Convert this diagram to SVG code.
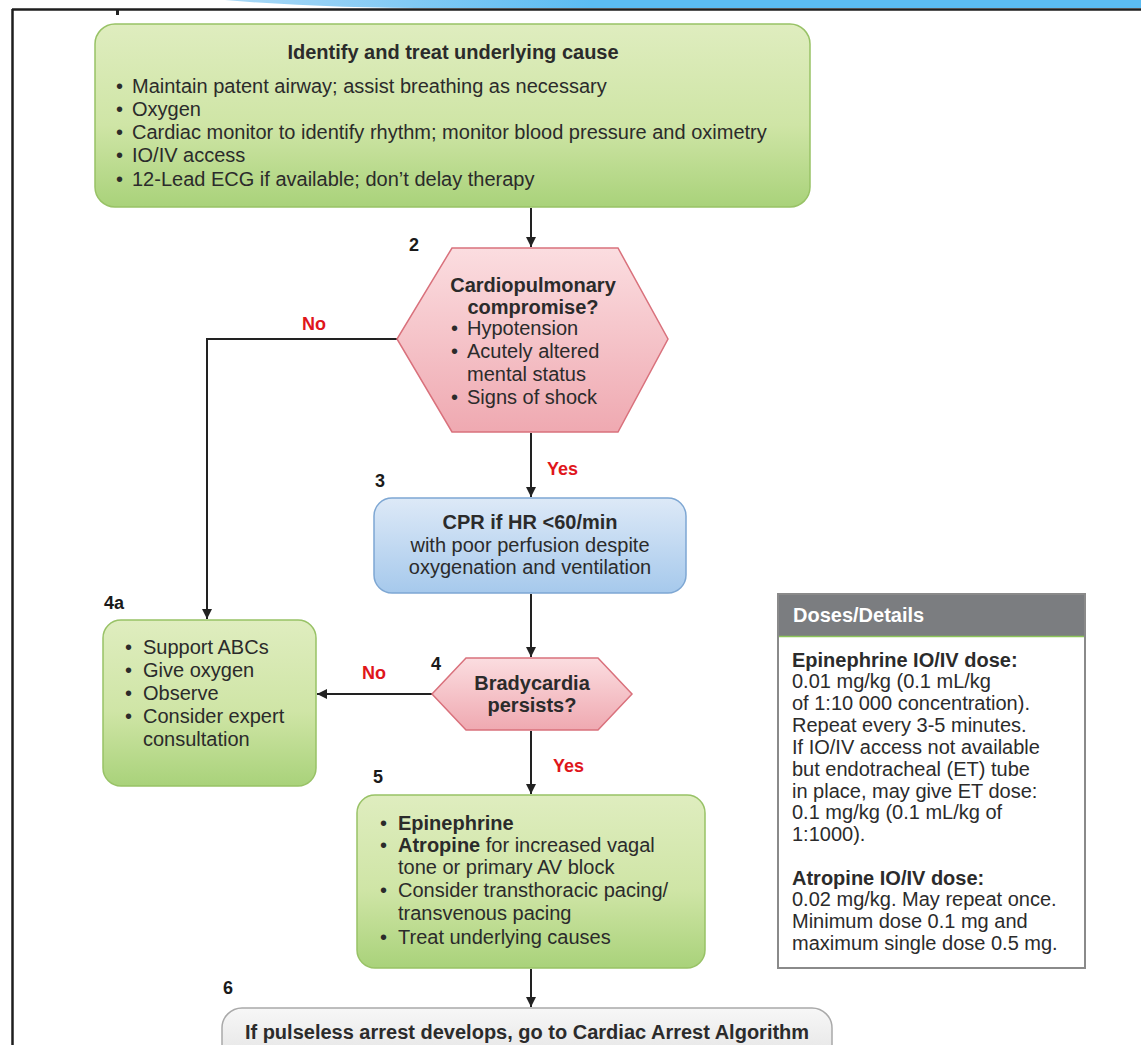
<svg xmlns="http://www.w3.org/2000/svg" width="1141" height="1045" viewBox="0 0 1141 1045">
<defs>
<linearGradient id="gGreen" x1="0" y1="0" x2="0" y2="1"><stop offset="0" stop-color="#dfedbf"/><stop offset="0.55" stop-color="#cfe5a6"/><stop offset="1" stop-color="#a9d27a"/></linearGradient>
<linearGradient id="gPink" x1="0" y1="0" x2="0" y2="1"><stop offset="0" stop-color="#fbdde0"/><stop offset="1" stop-color="#efa9b1"/></linearGradient>
<linearGradient id="gBlue" x1="0" y1="0" x2="0" y2="1"><stop offset="0" stop-color="#dde9f7"/><stop offset="1" stop-color="#a6c9ec"/></linearGradient>
<linearGradient id="gGrey" x1="0" y1="0" x2="0" y2="1"><stop offset="0" stop-color="#f7f7f7"/><stop offset="1" stop-color="#e2e2e2"/></linearGradient>
<linearGradient id="gBanner" x1="0" y1="0" x2="1" y2="0"><stop offset="0" stop-color="#a9d8f6"/><stop offset="0.4" stop-color="#5bbcf2"/><stop offset="1" stop-color="#5bbcf2"/></linearGradient>
<marker id="arr" viewBox="0 0 10 10" refX="10" refY="5" markerWidth="10" markerHeight="10" markerUnits="userSpaceOnUse" orient="auto"><path d="M0,0 L10,5 L0,10 Z" fill="#222"/></marker>
</defs>
<style>
text{font-family:"Liberation Sans",Arial,sans-serif;fill:#2b2b2b;font-size:20px}
.b{font-weight:bold}
.c{text-anchor:middle}
.num{font-weight:bold;font-size:18px;fill:#1a1a1a}
.lab{font-weight:bold;font-size:18px;fill:#e0161b}
.green{fill:url(#gGreen);stroke:#98c266;stroke-width:1.5}
.pink{fill:url(#gPink);stroke:#d9717c;stroke-width:1.5}
.blue{fill:url(#gBlue);stroke:#7ea7d3;stroke-width:1.5}
.grey{fill:url(#gGrey);stroke:#a9a9a9;stroke-width:1.5}
.conn{stroke:#222;stroke-width:2;fill:none;marker-end:url(#arr)}
.hdr{fill:#fff;font-weight:bold}
</style>
<rect x="0" y="0" width="1141" height="1045" fill="#fff"/>
<g id="frame">
<path d="M225 0 Q330 9 470 8 L1141 8 L1141 0 Z" fill="url(#gBanner)"/>
<line x1="12" y1="9.5" x2="1141" y2="9.5" stroke="#1e1e1e" stroke-width="2.5"/>
<line x1="12.5" y1="9" x2="12.5" y2="1045" stroke="#1e1e1e" stroke-width="2.5"/>
<rect x="116" y="10" width="3" height="5" fill="#222"/>
</g>
<g id="connectors">
<line class="conn" x1="531" y1="208" x2="531" y2="247"/>
<polyline class="conn" points="397,339 207,339 207,619"/>
<line class="conn" x1="531" y1="433" x2="531" y2="497"/>
<line class="conn" x1="531" y1="594" x2="531" y2="657"/>
<line class="conn" x1="432" y1="694" x2="317" y2="694"/>
<line class="conn" x1="531" y1="731" x2="531" y2="794"/>
<line class="conn" x1="531" y1="969" x2="531" y2="1007"/>
<text class="lab" x="302" y="330">No</text>
<text class="lab" x="547" y="475">Yes</text>
<text class="lab" x="362" y="679">No</text>
<text class="lab" x="553" y="772">Yes</text>
</g>
<g id="n1">
<rect class="green" x="95" y="24" width="715" height="183" rx="20"/>
<text class="b c" x="453" y="59">Identify and treat underlying cause</text>
<text x="116" y="93">•</text><text x="132" y="93">Maintain patent airway; assist breathing as necessary</text>
<text x="116" y="116">•</text><text x="132" y="116">Oxygen</text>
<text x="116" y="139">•</text><text x="132" y="139">Cardiac monitor to identify rhythm; monitor blood pressure and oximetry</text>
<text x="116" y="162">•</text><text x="132" y="162">IO/IV access</text>
<text x="116" y="186">•</text><text x="132" y="186">12-Lead ECG if available; don’t delay therapy</text>
</g>
<g id="n2">
<text class="num" x="409" y="251">2</text>
<polygon class="pink" points="452,248 618,248 668,339 618,432 452,432 397,339"/>
<text class="b c" x="533" y="292">Cardiopulmonary</text>
<text class="b c" x="533" y="314">compromise?</text>
<text x="451" y="335">•</text><text x="467" y="335">Hypotension</text>
<text x="451" y="358">•</text><text x="467" y="358">Acutely altered</text>
<text x="467" y="381">mental status</text>
<text x="451" y="404">•</text><text x="467" y="404">Signs of shock</text>
</g>
<g id="n3">
<text class="num" x="375" y="487">3</text>
<rect class="blue" x="374" y="498" width="312" height="95" rx="18"/>
<text class="b c" x="530" y="529">CPR if HR &lt;60/min</text>
<text class="c" x="530" y="552">with poor perfusion despite</text>
<text class="c" x="530" y="574">oxygenation and ventilation</text>
</g>
<g id="n4a">
<text class="num" x="104" y="609">4a</text>
<rect class="green" x="103" y="620" width="213" height="166" rx="18"/>
<text x="125" y="654">•</text><text x="143" y="654">Support ABCs</text>
<text x="125" y="677">•</text><text x="143" y="677">Give oxygen</text>
<text x="125" y="700">•</text><text x="143" y="700">Observe</text>
<text x="125" y="723">•</text><text x="143" y="723">Consider expert</text>
<text x="143" y="746">consultation</text>
</g>
<g id="n4">
<text class="num" x="431" y="670">4</text>
<polygon class="pink" points="466,658 598,658 632,694 598,730 466,730 432,694"/>
<text class="b c" x="532" y="690">Bradycardia</text>
<text class="b c" x="532" y="712">persists?</text>
</g>
<g id="n5">
<text class="num" x="373" y="783">5</text>
<rect class="green" x="357" y="795" width="348" height="173" rx="18"/>
<text x="380" y="830">•</text><text class="b" x="398" y="830">Epinephrine</text>
<text x="380" y="852">•</text><text x="398" y="852"><tspan class="b">Atropine</tspan> for increased vagal</text>
<text x="398" y="874">tone or primary AV block</text>
<text x="380" y="897">•</text><text x="398" y="897">Consider transthoracic pacing/</text>
<text x="398" y="920">transvenous pacing</text>
<text x="380" y="944">•</text><text x="398" y="944">Treat underlying causes</text>
</g>
<g id="n6">
<text class="num" x="223" y="994">6</text>
<rect class="grey" x="222" y="1008" width="610" height="60" rx="20"/>
<text class="b c" x="527" y="1039">If pulseless arrest develops, go to Cardiac Arrest Algorithm</text>
</g>
<g id="doses">
<rect x="778" y="594" width="307" height="374" fill="#fff" stroke="#8a8a8a" stroke-width="2"/>
<rect x="779" y="595" width="305" height="41" fill="#7b7d80"/>
<line x1="779" y1="636.5" x2="1084" y2="636.5" stroke="#8cc45a" stroke-width="1.5"/>
<text class="hdr" x="793" y="622">Doses/Details</text>
<text class="b" x="792" y="667">Epinephrine IO/IV dose:</text>
<text x="792" y="688">0.01 mg/kg (0.1 mL/kg</text>
<text x="792" y="710">of 1:10 000 concentration).</text>
<text x="792" y="732">Repeat every 3-5 minutes.</text>
<text x="792" y="754">If IO/IV access not available</text>
<text x="792" y="776">but endotracheal (ET) tube</text>
<text x="792" y="798">in place, may give ET dose:</text>
<text x="792" y="819">0.1 mg/kg (0.1 mL/kg of</text>
<text x="792" y="841">1:1000).</text>
<text class="b" x="792" y="885">Atropine IO/IV dose:</text>
<text x="792" y="906">0.02 mg/kg. May repeat once.</text>
<text x="792" y="928">Minimum dose 0.1 mg and</text>
<text x="792" y="950">maximum single dose 0.5 mg.</text>
</g>
</svg>
